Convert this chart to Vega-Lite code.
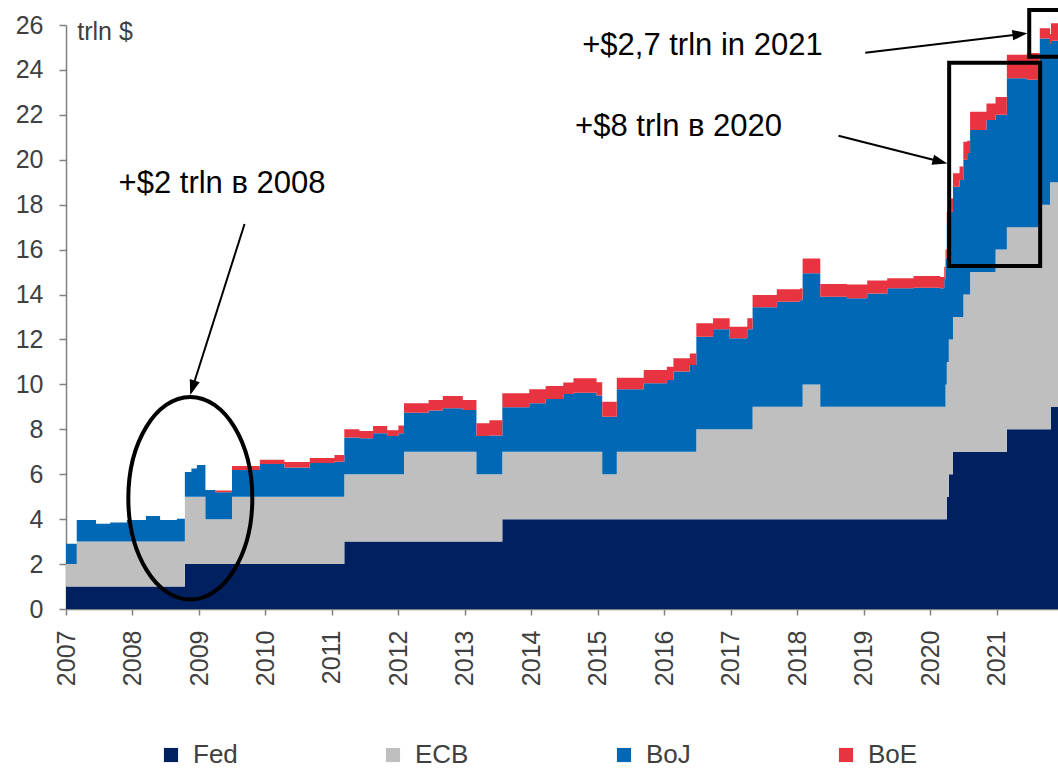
{
  "$schema": "https://vega.github.io/schema/vega-lite/v6.json",
  "width": 992,
  "height": 584,
  "autosize": {"type": "none"},
  "padding": {"left": 66, "top": 25, "right": 0, "bottom": 162},
  "background": "white",
  "config": {
    "font": "Liberation Sans",
    "view": {"stroke": null},
    "axis": {"grid": false, "title": null, "labelFont": "Liberation Sans", "labelColor": "#404040", "domainColor": "#808080", "tickColor": "#808080", "domainWidth": 1.5, "tickWidth": 1.5}
  },
  "datasets": {
    "bs": [
      {"d": "2007-01-01", "Fed": 1, "ECB": 1, "BoJ": 0.9, "BoE": 0},
      {"d": "2007-03-01", "Fed": 1, "ECB": 2, "BoJ": 0.96, "BoE": 0},
      {"d": "2007-06-15", "Fed": 1, "ECB": 2, "BoJ": 0.8, "BoE": 0},
      {"d": "2007-09-01", "Fed": 1, "ECB": 2, "BoJ": 0.85, "BoE": 0},
      {"d": "2007-12-01", "Fed": 1, "ECB": 2, "BoJ": 0.96, "BoE": 0},
      {"d": "2008-03-15", "Fed": 1, "ECB": 2, "BoJ": 1.14, "BoE": 0},
      {"d": "2008-06-01", "Fed": 1, "ECB": 2, "BoJ": 0.96, "BoE": 0},
      {"d": "2008-09-01", "Fed": 1, "ECB": 2, "BoJ": 1.02, "BoE": 0},
      {"d": "2008-10-15", "Fed": 2, "ECB": 3, "BoJ": 1.1, "BoE": 0},
      {"d": "2008-11-20", "Fed": 2, "ECB": 3, "BoJ": 1.25, "BoE": 0},
      {"d": "2008-12-20", "Fed": 2, "ECB": 3, "BoJ": 1.41, "BoE": 0},
      {"d": "2009-02-05", "Fed": 2, "ECB": 2, "BoJ": 1.3, "BoE": 0},
      {"d": "2009-04-01", "Fed": 2, "ECB": 2, "BoJ": 1.2, "BoE": 0.08},
      {"d": "2009-07-01", "Fed": 2, "ECB": 3, "BoJ": 1.19, "BoE": 0.18},
      {"d": "2009-12-01", "Fed": 2, "ECB": 3, "BoJ": 1.45, "BoE": 0.2},
      {"d": "2010-04-15", "Fed": 2, "ECB": 3, "BoJ": 1.3, "BoE": 0.25},
      {"d": "2010-09-01", "Fed": 2, "ECB": 3, "BoJ": 1.5, "BoE": 0.22},
      {"d": "2011-01-15", "Fed": 2, "ECB": 3, "BoJ": 1.56, "BoE": 0.3},
      {"d": "2011-03-10", "Fed": 3, "ECB": 3, "BoJ": 1.64, "BoE": 0.36},
      {"d": "2011-06-01", "Fed": 3, "ECB": 3, "BoJ": 1.6, "BoE": 0.32},
      {"d": "2011-08-15", "Fed": 3, "ECB": 3, "BoJ": 1.82, "BoE": 0.33},
      {"d": "2011-11-01", "Fed": 3, "ECB": 3, "BoJ": 1.7, "BoE": 0.26},
      {"d": "2012-01-01", "Fed": 3, "ECB": 3, "BoJ": 1.82, "BoE": 0.35},
      {"d": "2012-02-01", "Fed": 3, "ECB": 4, "BoJ": 1.74, "BoE": 0.42},
      {"d": "2012-06-15", "Fed": 3, "ECB": 4, "BoJ": 1.84, "BoE": 0.46},
      {"d": "2012-09-01", "Fed": 3, "ECB": 4, "BoJ": 1.94, "BoE": 0.54},
      {"d": "2012-12-20", "Fed": 3, "ECB": 4, "BoJ": 1.86, "BoE": 0.44},
      {"d": "2013-03-05", "Fed": 3, "ECB": 3, "BoJ": 1.7, "BoE": 0.57},
      {"d": "2013-05-15", "Fed": 3, "ECB": 3, "BoJ": 1.72, "BoE": 0.68},
      {"d": "2013-07-25", "Fed": 4, "ECB": 3, "BoJ": 1.98, "BoE": 0.62},
      {"d": "2013-12-20", "Fed": 4, "ECB": 3, "BoJ": 2.16, "BoE": 0.62},
      {"d": "2014-03-20", "Fed": 4, "ECB": 3, "BoJ": 2.35, "BoE": 0.58},
      {"d": "2014-06-25", "Fed": 4, "ECB": 3, "BoJ": 2.57, "BoE": 0.51},
      {"d": "2014-08-20", "Fed": 4, "ECB": 3, "BoJ": 2.63, "BoE": 0.64},
      {"d": "2014-12-25", "Fed": 4, "ECB": 3, "BoJ": 2.5, "BoE": 0.6},
      {"d": "2015-01-25", "Fed": 4, "ECB": 2, "BoJ": 2.56, "BoE": 0.67},
      {"d": "2015-04-15", "Fed": 4, "ECB": 3, "BoJ": 2.78, "BoE": 0.52},
      {"d": "2015-09-10", "Fed": 4, "ECB": 3, "BoJ": 3.05, "BoE": 0.59},
      {"d": "2016-01-15", "Fed": 4, "ECB": 3, "BoJ": 3.2, "BoE": 0.59},
      {"d": "2016-02-20", "Fed": 4, "ECB": 3, "BoJ": 3.57, "BoE": 0.59},
      {"d": "2016-05-20", "Fed": 4, "ECB": 3, "BoJ": 3.86, "BoE": 0.52},
      {"d": "2016-06-25", "Fed": 4, "ECB": 4, "BoJ": 4.12, "BoE": 0.6},
      {"d": "2016-09-25", "Fed": 4, "ECB": 4, "BoJ": 4.45, "BoE": 0.49},
      {"d": "2016-12-25", "Fed": 4, "ECB": 4, "BoJ": 4.05, "BoE": 0.52},
      {"d": "2017-04-01", "Fed": 4, "ECB": 4, "BoJ": 4.45, "BoE": 0.49},
      {"d": "2017-04-30", "Fed": 4, "ECB": 5, "BoJ": 4.43, "BoE": 0.55},
      {"d": "2017-09-10", "Fed": 4, "ECB": 5, "BoJ": 4.68, "BoE": 0.55},
      {"d": "2018-01-15", "Fed": 4, "ECB": 5, "BoJ": 4.75, "BoE": 0.52},
      {"d": "2018-01-30", "Fed": 4, "ECB": 6, "BoJ": 4.95, "BoE": 0.65},
      {"d": "2018-05-07", "Fed": 4, "ECB": 5, "BoJ": 4.9, "BoE": 0.57},
      {"d": "2018-10-01", "Fed": 4, "ECB": 5, "BoJ": 4.83, "BoE": 0.62},
      {"d": "2019-01-20", "Fed": 4, "ECB": 5, "BoJ": 5.05, "BoE": 0.57},
      {"d": "2019-05-10", "Fed": 4, "ECB": 5, "BoJ": 5.28, "BoE": 0.44},
      {"d": "2019-10-01", "Fed": 4, "ECB": 5, "BoJ": 5.3, "BoE": 0.53},
      {"d": "2020-02-25", "Fed": 4, "ECB": 5, "BoJ": 5.28, "BoE": 0.5},
      {"d": "2020-03-18", "Fed": 4, "ECB": 5, "BoJ": 5.7, "BoE": 0.54},
      {"d": "2020-03-25", "Fed": 4, "ECB": 6, "BoJ": 5.6, "BoE": 0.4},
      {"d": "2020-04-01", "Fed": 5, "ECB": 6, "BoJ": 6.2, "BoE": 0.5},
      {"d": "2020-04-12", "Fed": 6, "ECB": 6, "BoJ": 5.69, "BoE": 0.59},
      {"d": "2020-05-05", "Fed": 7, "ECB": 6, "BoJ": 5.8, "BoE": 0.6},
      {"d": "2020-06-10", "Fed": 7, "ECB": 6, "BoJ": 6.1, "BoE": 0.6},
      {"d": "2020-07-01", "Fed": 7, "ECB": 7, "BoJ": 6.0, "BoE": 0.8},
      {"d": "2020-07-22", "Fed": 7, "ECB": 7, "BoJ": 6.3, "BoE": 0.55},
      {"d": "2020-08-07", "Fed": 7, "ECB": 8, "BoJ": 6.33, "BoE": 0.81},
      {"d": "2020-11-05", "Fed": 7, "ECB": 8, "BoJ": 6.77, "BoE": 0.74},
      {"d": "2020-12-25", "Fed": 7, "ECB": 9, "BoJ": 6.0, "BoE": 0.8},
      {"d": "2021-02-25", "Fed": 8, "ECB": 9, "BoJ": 6.63, "BoE": 1.04},
      {"d": "2021-06-15", "Fed": 8, "ECB": 9, "BoJ": 6.56, "BoE": 1.19},
      {"d": "2021-08-25", "Fed": 8, "ECB": 10, "BoJ": 7.4, "BoE": 0.45},
      {"d": "2021-10-20", "Fed": 8, "ECB": 11, "BoJ": 6.19, "BoE": 0.41},
      {"d": "2021-10-25", "Fed": 9, "ECB": 10, "BoJ": 6.3, "BoE": 0.78},
      {"d": "2021-12-03", "Fed": 9, "ECB": 10, "BoJ": 6.3, "BoE": 0.78}
    ]
  },
  "encoding": {
    "x": {
      "field": "d", "type": "temporal",
      "scale": {"type": "utc", "domain": [{"year": 2007, "month": 1, "date": 1, "utc": true}, {"year": 2021, "month": 12, "date": 3, "utc": true}], "nice": false},
      "axis": {"tickCount": {"interval": "year", "step": 1}, "format": "%Y", "labelAngle": -90, "labelFontSize": 25, "labelPadding": 15, "tickSize": 6, "labelOverlap": false, "labelFlush": false, "labelBound": false}
    },
    "y": {
      "field": "v", "type": "quantitative",
      "scale": {"domain": [0, 26], "nice": false},
      "axis": {"values": [0, 2, 4, 6, 8, 10, 12, 14, 16, 18, 20, 22, 24, 26], "labelFontSize": 25, "labelPadding": 16, "tickSize": 7}
    }
  },
  "layer": [
    {
      "data": {"name": "bs"},
      "transform": [{"fold": ["Fed", "ECB", "BoJ", "BoE"], "as": ["bank", "v"]}],
      "mark": {"type": "area", "interpolate": "step-after"},
      "encoding": {
        "y": {"field": "v", "type": "quantitative", "stack": "zero"},
        "color": {
          "field": "bank", "type": "nominal",
          "scale": {"domain": ["Fed", "ECB", "BoJ", "BoE"], "range": ["#00205F", "#BFBFBF", "#0068B4", "#E83440"]},
          "legend": {"title": null, "orient": "none", "legendX": 92, "legendY": 717, "direction": "horizontal", "columnPadding": 142, "symbolType": "square", "symbolSize": 200, "symbolStrokeWidth": 0, "labelFontSize": 26, "labelColor": "#404040", "labelFont": "Liberation Sans", "labelOffset": 9, "labelLimit": 300, "padding": 0}
        },
        "order": {"field": "bank", "sort": "descending"}
      }
    },
    {
      "data": {"values": [
        {"d": "2020-04-14", "d2": "2021-08-27", "v": 15.27, "v2": 24.32},
        {"d": "2021-06-28", "d2": "2022-03-01", "v": 24.59, "v2": 26.67}
      ]},
      "mark": {"type": "rect", "fillOpacity": 0, "stroke": "black", "strokeWidth": 4},
      "encoding": {"x2": {"field": "d2"}, "y2": {"field": "v2"}}
    },
    {
      "data": {"values": [{"d": "2008-11-14", "v": 4.93}]},
      "mark": {"type": "point", "shape": "M0,-1C0.338,-1 0.612,-0.552 0.612,0C0.612,0.552 0.338,1 0,1C-0.338,1 -0.612,0.552 -0.612,0C-0.612,-0.552 -0.338,-1 0,-1Z", "size": 41047, "filled": false, "stroke": "black", "strokeWidth": 4, "opacity": 1}
    },
    {
      "data": {"values": [
        {"d": "2009-09-08", "v": 17.14, "d2": "2008-11-26", "v2": 9.85},
        {"d": "2018-08-15", "v": 21.07, "d2": "2020-02-24", "v2": 19.92},
        {"d": "2019-01-09", "v": 24.76, "d2": "2021-05-08", "v2": 25.59}
      ]},
      "mark": {"type": "rule", "color": "black", "strokeWidth": 2},
      "encoding": {"x2": {"field": "d2"}, "y2": {"field": "v2"}}
    },
    {
      "data": {"values": [{"d": "2008-11-26", "v": 9.85}]},
      "mark": {"type": "point", "shape": "M0,-1L-0.7,1L0.7,1Z", "size": 225, "filled": true, "color": "black", "opacity": 1, "strokeWidth": 0, "angle": 197.6}
    },
    {
      "data": {"values": [{"d": "2020-02-24", "v": 19.92}]},
      "mark": {"type": "point", "shape": "M0,-1L-0.7,1L0.7,1Z", "size": 225, "filled": true, "color": "black", "opacity": 1, "strokeWidth": 0, "angle": 104.2}
    },
    {
      "data": {"values": [{"d": "2021-05-08", "v": 25.59}]},
      "mark": {"type": "point", "shape": "M0,-1L-0.7,1L0.7,1Z", "size": 225, "filled": true, "color": "black", "opacity": 1, "strokeWidth": 0, "angle": 83.2}
    },
    {
      "data": {"values": [{"d": "2007-03-04", "v": 25.33, "t": "trln $"}]},
      "mark": {"type": "text", "align": "left", "baseline": "alphabetic", "fontSize": 25, "font": "Liberation Sans", "color": "#404040"},
      "encoding": {"text": {"field": "t"}}
    },
    {
      "data": {"values": [
        {"d": "2007-10-17", "v": 18.54, "t": "+$2 trln в 2008"},
        {"d": "2014-08-29", "v": 21.06, "t": "+$8 trln в 2020"},
        {"d": "2014-10-07", "v": 24.67, "t": "+$2,7 trln in 2021"}
      ]},
      "mark": {"type": "text", "align": "left", "baseline": "alphabetic", "fontSize": 31, "font": "Liberation Sans", "color": "black"},
      "encoding": {"text": {"field": "t"}}
    }
  ]
}
